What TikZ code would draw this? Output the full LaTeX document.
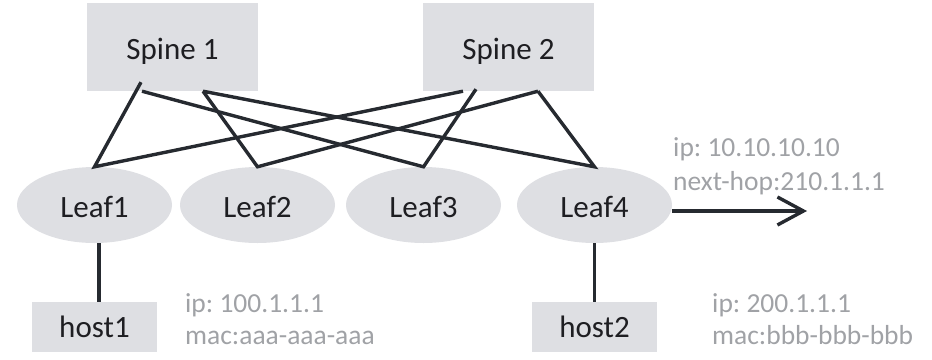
\documentclass[tikz,border=0pt]{standalone}
\usepackage{fontspec}
\setmainfont{Carlito}
\usetikzlibrary{shapes.geometric,arrows.meta,calc}
\definecolor{boxfill}{RGB}{222,223,227}
\definecolor{wire}{RGB}{38,42,48}
\definecolor{note}{RGB}{160,162,166}
\definecolor{label}{RGB}{30,30,34}
\frenchspacing

\begin{document}
\begin{tikzpicture}[x=1pt,y=-1pt,
  box/.style={fill=boxfill, draw=none, inner sep=0pt, text=label,
    font=\fontsize{31}{31}\selectfont, text depth=0pt},
  spinebox/.style={box, minimum width=171pt, minimum height=88pt, text height=24pt},
  hostbox/.style={box, minimum width=125pt, minimum height=50pt, text height=20pt},
  leafnode/.style={box, ellipse, minimum width=155pt, minimum height=76pt, text height=24pt},
  wirestyle/.style={draw=wire, line width=3.4pt},
  arrowline/.style={draw=wire, line width=4pt,
    -{Straight Barb[length=26pt,width=28pt,line width=3.4pt]}},
  notetext/.style={text=note, font=\fontsize{27.5}{27.5}\selectfont,
    anchor=base west, inner sep=0pt},
]
\useasboundingbox (0,0) rectangle (932,359);

% spine switches
\node[spinebox] (s1) at (172.5,47) {Spine 1};
\node[spinebox] (s2) at (508.5,47) {Spine 2};

% leaf switches
\node[leafnode] (l1) at (94.5,205) {Leaf1};
\node[leafnode] (l2) at (257.5,205) {Leaf2};
\node[leafnode] (l3) at (423.5,205) {Leaf3};
\node[leafnode] (l4) at (594.5,205) {Leaf4};

% hosts
\node[hostbox] (h1) at (94.5,327) {host1};
\node[hostbox] (h2) at (594.5,327) {host2};

% uplink ports on the spines
\coordinate (s1a) at ($(s1.south)+(-31.5,-9)$);
\coordinate (s1b) at ($(s1.south)+(-30.5,0)$);
\coordinate (s1c) at ($(s1.south)+(30.5,0)$);
\coordinate (s2a) at ($(s2.south)+(-45.5,0)$);
\coordinate (s2b) at ($(s2.south)+(-32.5,-2)$);
\coordinate (s2c) at ($(s2.south)+(29.5,0)$);

% full mesh between spines and leaves
\draw[wirestyle] (s1a) -- (l1.north) -- (s2a);
\draw[wirestyle] (s1c) -- (l2.north) -- (s2c);
\draw[wirestyle] (s1b) -- (l3.north) -- (s2b);
\draw[wirestyle] (s1c) -- (l4.north) -- (s2c);

% host links
\draw[wirestyle] ([xshift=4.5pt]l1.south) -- ([xshift=4.5pt]h1.north);
\draw[wirestyle] (l4.south) -- (h2.north);

% external route out of Leaf4
\coordinate (out) at (807,211);
\draw[arrowline] ([yshift=-6pt]l4.east) -- (out);

% address notes
\node[notetext] (n1) at (673,156) {ip: 10.10.10.10};
\node[notetext] (n2) at (673,190) {next-hop:210.1.1.1};
\node[notetext] (n3) at (185,312) {ip: 100.1.1.1};
\node[notetext] (n4) at (185,344) {mac:aaa-aaa-aaa};
\node[notetext] (n5) at (712,312) {ip: 200.1.1.1};
\node[notetext] (n6) at (712,344) {mac:bbb-bbb-bbb};
\end{tikzpicture}
\end{document}
